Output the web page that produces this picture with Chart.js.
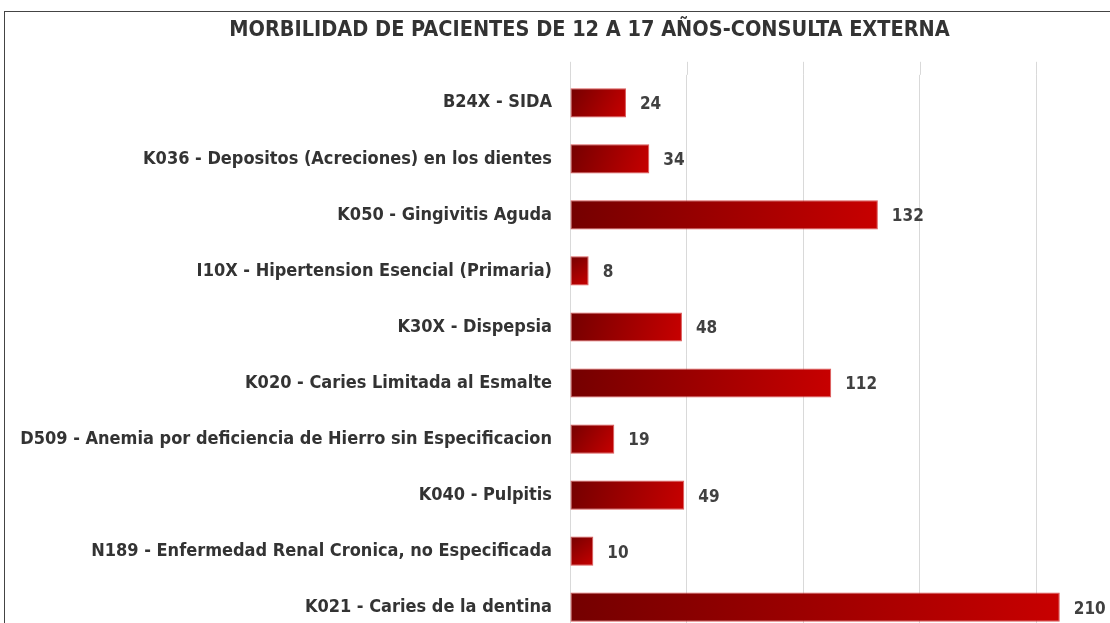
<!DOCTYPE html>
<html>
<head>
<meta charset="utf-8">
<script src="https://cdn.jsdelivr.net/npm/chart.js@4"></script>
<style>
  html, body { margin: 0; padding: 0; background: #fff; overflow: hidden; width: 1110px; height: 623px; }
  #frame { position: absolute; left: 4px; top: 11px; width: 1200px; height: 700px;
           border-top: 1.5px solid #444; border-left: 1.5px solid #444; }
  #morbChart { position: absolute; left: 0; top: 0; }
</style>
</head>
<body>
<div id="frame"></div>
<canvas id="morbChart" width="1182" height="664"></canvas>
<script>
// categories (top to bottom) and number of patients
const diagnosticos = [
    'B24X - SIDA',
    'K036 - Depositos (Acreciones) en los dientes',
    'K050 - Gingivitis Aguda',
    'I10X - Hipertension Esencial (Primaria)',
    'K30X - Dispepsia',
    'K020 - Caries Limitada al Esmalte',
    'D509 - Anemia por deficiencia de Hierro sin Especificacion',
    'K040 - Pulpitis',
    'N189 - Enfermedad Renal Cronica, no Especificada',
    'K021 - Caries de la dentina'
];
const pacientes = [24, 34, 132, 8, 48, 112, 19, 49, 10, 210];

const FONT = '"Liberation Sans Narrow", "DejaVu Sans Condensed", "Open Sans", sans-serif';

// gradient per bar: dark red top-left to bright red bottom-right
function barGradient(context) {
    const chart = context.chart;
    if (!chart.chartArea || !chart.scales.x || context.dataIndex === undefined) return '#a00000';
    const xs = chart.scales.x, ys = chart.scales.y;
    const x0 = xs.getPixelForValue(0);
    const x1 = xs.getPixelForValue(pacientes[context.dataIndex]);
    const yc = ys.getPixelForValue(context.dataIndex);
    const g = chart.ctx.createLinearGradient(x0, yc - 15, x1, yc + 15);
    g.addColorStop(0, '#740000');
    g.addColorStop(1, '#c80000');
    return g;
}

// value labels next to each bar
const valueLabels = {
    id: 'valueLabels',
    afterDatasetsDraw(chart) {
        const ctx = chart.ctx;
        const meta = chart.getDatasetMeta(0);
        ctx.save();
        ctx.font = 'bold 17px ' + FONT;
        ctx.fillStyle = '#404040';
        ctx.textAlign = 'left';
        ctx.textBaseline = 'middle';
        meta.data.forEach((bar, i) => {
            ctx.fillText(pacientes[i], bar.x + 14, bar.y + 2);
        });
        ctx.restore();
    }
};

// gridlines continue a bit above the first bar
const gridTop = {
    id: 'gridTop',
    beforeDatasetsDraw(chart) {
        const ctx = chart.ctx;
        const xs = chart.scales.x;
        ctx.save();
        ctx.strokeStyle = '#d9d9d9';
        ctx.lineWidth = 1;
        xs.ticks.forEach(t => {
            const x = Math.round(xs.getPixelForValue(t.value)) + 0.5;
            ctx.beginPath();
            ctx.moveTo(x, chart.chartArea.top - 13);
            ctx.lineTo(x, chart.chartArea.top);
            ctx.stroke();
        });
        ctx.restore();
    }
};

new Chart(document.getElementById('morbChart'), {
    type: 'bar',
    data: {
        labels: diagnosticos,
        datasets: [{
            data: pacientes,
            backgroundColor: barGradient,
            borderColor: 'rgba(215, 70, 70, 0.9)',
            borderWidth: 1,
            borderSkipped: false,
            barPercentage: 0.52,
            categoryPercentage: 1.0
        }]
    },
    options: {
        indexAxis: 'y',
        responsive: false,
        animation: false,
        layout: { padding: { left: 4, right: 7, top: 0, bottom: 5 } },
        plugins: {
            legend: { display: false },
            tooltip: { enabled: false },
            title: {
                display: true,
                text: 'MORBILIDAD DE PACIENTES DE 12 A 17 AÑOS-CONSULTA EXTERNA',
                color: '#333333',
                font: { family: FONT, size: 21.5, weight: 'bold' },
                padding: { top: 18, bottom: 31 }
            }
        },
        scales: {
            x: {
                min: 0,
                max: 259.4,
                ticks: { display: false, stepSize: 50 },
                grid: { color: '#d9d9d9', drawTicks: false },
                border: { display: false },
                afterFit(scale) { scale.height = 0; }
            },
            y: {
                ticks: {
                    color: '#333333',
                    font: { family: FONT, size: 18, weight: 'bold' },
                    padding: 18
                },
                grid: { display: false, drawTicks: false },
                border: { display: true, color: '#d9d9d9' },
                afterFit(scale) { scale.width = 566; }
            }
        }
    },
    plugins: [valueLabels, gridTop]
});
</script>
</body>
</html>
